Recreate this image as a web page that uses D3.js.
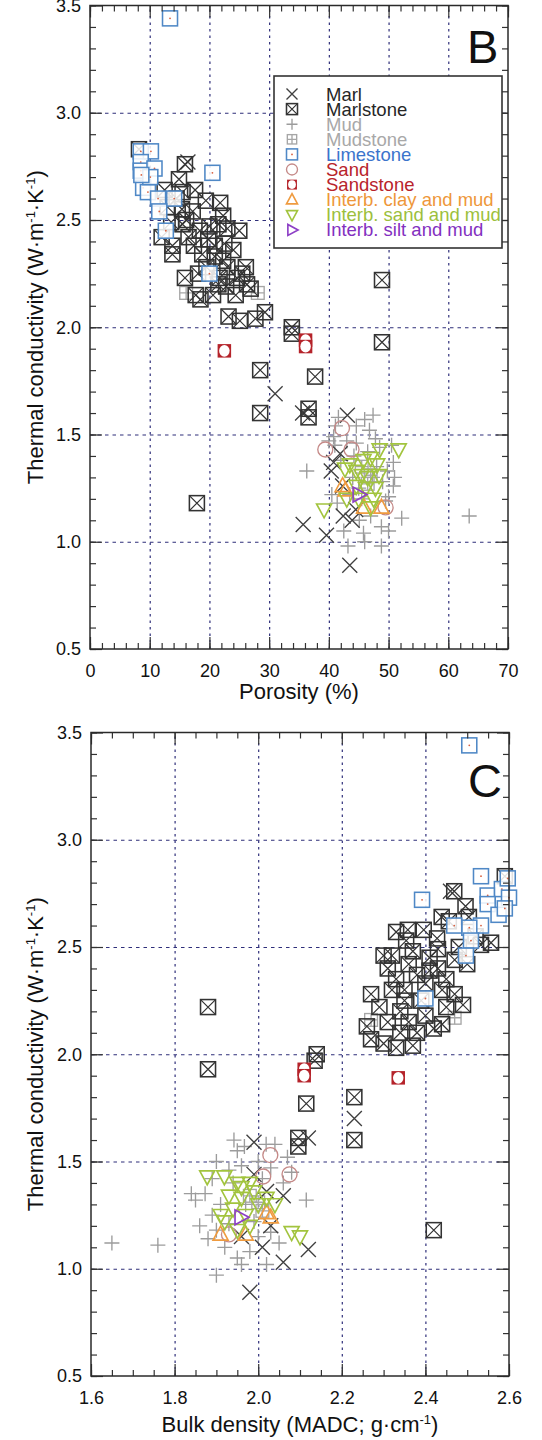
<!DOCTYPE html>
<html>
<head>
<meta charset="utf-8">
<script src="https://cdnjs.cloudflare.com/ajax/libs/d3/7.8.5/d3.min.js"></script>
<style>
body { margin: 0; background: #fff; }
svg text { font-family: "Liberation Sans", Arial, sans-serif; }
</style>
</head>
<body>
<svg id="chart" width="542" height="1440"></svg>
<script>
// ---- panel B : porosity (%) vs thermal conductivity ----
var marlB = [[16.4,2.77],[31.0,1.69],[35.6,1.60],[43.1,1.59],[41.9,1.41],[40.4,1.33],[42.3,1.26],
  [42.4,1.12],[43.9,1.10],[35.7,1.08],[39.6,1.03],[43.5,0.89],[44.5,1.15],[40.8,1.37]];
var marlstoneB = [[8.2,2.83],[15.9,2.76],[14.9,2.69],[17.6,2.64],[12.5,2.64],[15.5,2.63],[19.4,2.59],
  [21.8,2.58],[15.4,2.55],[17.2,2.54],[15.5,2.48],[18.4,2.45],[21.5,2.48],[23.0,2.46],[25.0,2.45],
  [13.8,2.38],[13.8,2.34],[17.4,2.38],[20.9,2.38],[22.5,2.39],[18.8,2.34],[20.9,2.33],[22.3,2.31],
  [23.0,2.28],[26.1,2.28],[15.9,2.23],[18.1,2.25],[21.7,2.23],[24.6,2.23],[17.7,2.15],[18.5,2.13],
  [20.6,2.15],[22.8,2.19],[24.4,2.15],[26.3,2.20],[23.2,2.05],[25.1,2.03],[27.7,2.04],[29.3,2.07],
  [12.0,2.42],[16.5,2.42],[19.8,2.41],[16.1,2.50],[13.6,2.49],[22.3,2.52],[20.0,2.47],[24.0,2.36],
  [19.5,2.28],[21.5,2.20],[25.5,2.25],[26.9,2.18],[13.0,2.56],[14.5,2.60],
  [33.8,2.00],[33.8,1.97],[48.9,2.22],[48.9,1.93],[28.5,1.80],[37.7,1.77],[28.5,1.60],[36.6,1.62],
  [36.6,1.58],[17.9,1.18]];
var mudB = [[36.3,1.33],[63.5,1.12],[41.6,1.58],[44.6,1.54],[46.0,1.57],[47.4,1.59],[41.1,1.54],
  [52.2,1.11],[48.8,1.07],[45.8,1.04],[43.2,0.98],[48.8,0.98],[50.8,1.37],[50.8,1.26],[50.0,1.21],
  [41.4,1.18],[40.5,1.22],[45.1,1.10],[47.3,1.30],[44.6,1.46],[43.0,1.47],[40.8,1.49],[47.8,1.48],
  [49.5,1.19],[46.5,1.42],[48.5,1.44],[42.0,1.38],[44.0,1.30],[45.5,1.20],[47.0,1.12],[49.0,1.28],
  [50.5,1.45],[46.8,1.52],[41.0,1.45],[43.5,1.22],[46.0,1.00],[50.0,1.05],[51.0,1.30],[40.0,1.47],
  [42.5,1.05],[44.2,1.40],[48.0,1.35],[45.0,1.25],[49.8,1.33]];
var mudstoneB = [[16.1,2.16],[28.1,2.16],[47.0,1.31],[46.5,1.27],[45.5,1.35]];
var limestoneB = [[13.4,3.44],[8.5,2.82],[10.2,2.82],[8.5,2.77],[8.5,2.73],[10.8,2.74],[20.5,2.72],
  [8.9,2.65],[9.7,2.63],[11.4,2.60],[14.1,2.60],[11.6,2.54],[12.7,2.45],[20.0,2.25],[10.1,2.70],[8.6,2.71]];
var sandB = [[42.2,1.53],[39.4,1.43],[43.8,1.43],[49.5,1.16]];
var sandstoneB = [[36.1,1.94],[36.1,1.91],[22.5,1.89]];
var clayMudB = [[42.3,1.26],[45.9,1.16],[48.8,1.16],[42.8,1.24]];
var sandMudB = [[51.7,1.43],[48.5,1.43],[39.2,1.15],[42.7,1.34],[44.6,1.33],[45.8,1.38],[47.0,1.39],
  [48.4,1.31],[44.6,1.26],[46.2,1.25],[47.8,1.25],[47.0,1.16],[48.1,1.36],[45.5,1.31],[43.5,1.36],
  [46.5,1.30],[45.0,1.20],[47.5,1.20],[43.0,1.20]];
var siltMudB = [[45.0,1.22]];

// ---- panel C : bulk density vs thermal conductivity ----
var marlC = [[1.99,1.59],[2.12,1.61],[1.99,1.44],[2.06,1.34],[2.02,1.36],[1.98,0.89],[2.06,1.03],
  [2.12,1.09],[2.01,1.10],[1.96,1.15],[2.23,1.70],[2.46,2.76],[2.03,1.20]];
var marlstoneC = [[1.88,2.22],[1.88,1.93],[2.135,1.97],[2.14,2.00],[2.115,1.77],[2.096,1.61],[2.096,1.57],
  [2.23,1.80],[2.23,1.60],[2.42,1.18],
  [2.469,2.76],[2.496,2.69],[2.439,2.64],[2.456,2.62],[2.504,2.64],[2.59,2.83],[2.33,2.57],[2.358,2.58],
  [2.396,2.58],[2.354,2.53],[2.428,2.54],[2.557,2.52],[2.533,2.51],[2.43,2.49],[2.30,2.46],[2.32,2.46],
  [2.37,2.48],[2.27,2.28],[2.29,2.22],[2.31,2.40],[2.33,2.35],[2.35,2.30],[2.36,2.42],[2.38,2.37],
  [2.40,2.33],[2.41,2.45],[2.43,2.40],[2.45,2.35],[2.47,2.44],[2.48,2.50],[2.50,2.42],[2.52,2.55],
  [2.44,2.30],[2.39,2.25],[2.34,2.20],[2.31,2.15],[2.36,2.15],[2.40,2.18],[2.42,2.12],[2.45,2.22],
  [2.47,2.28],[2.30,2.05],[2.33,2.03],[2.37,2.04],[2.27,2.07],[2.26,2.13],[2.44,2.14],[2.38,2.10],
  [2.34,2.10],[2.41,2.39],[2.49,2.23],[2.35,2.25],[2.32,2.30]];
var mudC = [[1.65,1.12],[1.76,1.11],[1.84,1.35],[1.85,1.32],[1.90,0.97],[1.942,1.60],[1.967,1.57],
  [2.019,1.58],[2.04,1.58],[1.873,1.35],[2.115,1.32],[1.90,1.50],[1.93,1.46],[1.96,1.48],[2.00,1.50],
  [2.03,1.47],[2.06,1.40],[2.08,1.45],[1.89,1.25],[1.92,1.10],[1.95,1.05],[1.98,1.08],[2.00,1.15],
  [2.02,1.02],[1.90,1.18],[1.88,1.14],[1.91,1.30],[1.94,1.40],[1.97,1.30],[1.99,1.22],[2.05,1.12],
  [1.86,1.20],[1.93,1.21],[2.01,1.42],[1.95,1.55],[2.07,1.52],[1.96,1.02],[2.03,1.17],[1.89,1.42]];
var mudstoneC = [[2.27,2.16],[2.47,2.17],[2.00,1.31],[2.01,1.27],[1.98,1.34]];
var limestoneC = [[2.505,3.44],[2.533,2.83],[2.392,2.72],[2.549,2.74],[2.583,2.77],[2.597,2.82],
  [2.549,2.70],[2.575,2.65],[2.533,2.60],[2.505,2.59],[2.469,2.60],[2.509,2.53],[2.497,2.46],
  [2.40,2.26],[2.60,2.73],[2.59,2.68]];
var sandC = [[2.029,1.53],[2.012,1.43],[2.075,1.44],[1.93,1.16]];
var sandstoneC = [[2.11,1.93],[2.11,1.90],[2.335,1.89]];
var clayMudC = [[2.02,1.26],[1.91,1.16],[1.97,1.16],[2.03,1.24]];
var sandMudC = [[1.878,1.43],[1.919,1.43],[1.95,1.40],[1.98,1.40],[1.93,1.34],[1.96,1.33],[1.99,1.36],
  [2.02,1.33],[1.94,1.28],[1.97,1.25],[2.00,1.30],[1.92,1.22],[1.95,1.18],[2.10,1.15],[1.98,1.20],
  [2.04,1.30],[1.91,1.25],[1.96,1.38],[2.08,1.17]];
var siltMudC = [[1.958,1.24]];

// ---- ticks ----
var tcTicks = [0.5, 1.0, 1.5, 2.0, 2.5, 3.0, 3.5];
var porTicks = [0, 10, 20, 30, 40, 50, 60, 70];
var denTicks = [1.6, 1.8, 2.0, 2.2, 2.4, 2.6];

var lithNames = ["Marl", "Marlstone", "Mud", "Mudstone", "Limestone", "Sand", "Sandstone",
  "Interb. clay and mud", "Interb. sand and mud", "Interb. silt and mud"];

var look = {
  "Marl": {shape: "x", color: "#404040", text: "#262626"},
  "Marlstone": {shape: "xbox", color: "#333333", text: "#262626"},
  "Mud": {shape: "plus", color: "#9c9c9c", text: "#a8a8a8"},
  "Mudstone": {shape: "plusbox", color: "#a6a6a6", text: "#a8a8a8"},
  "Limestone": {shape: "dotbox", color: "#4f88c6", text: "#3b74cc"},
  "Sand": {shape: "circle", color: "#c58a88", text: "#b8232b"},
  "Sandstone": {shape: "cornerbox", color: "#b5232a", text: "#b8232b"},
  "Interb. clay and mud": {shape: "tri", color: "#ef9b3f", text: "#ee973a"},
  "Interb. sand and mud": {shape: "tridown", color: "#a2c43e", text: "#9cbf3c"},
  "Interb. silt and mud": {shape: "triright", color: "#8d3fc6", text: "#8330bf"}
};

var svg = d3.select("#chart");
svg.append("rect").attr("width", 542).attr("height", 1440).attr("fill", "#fff");

function drawSymbol(g, shape, color, s) {
  var sw = 1.35;
  if (shape == "x") {
    g.append("path").attr("d", "M" + -s + "," + -s + "L" + s + "," + s + "M" + -s + "," + s + "L" + s + "," + -s)
      .attr("stroke", color).attr("stroke-width", sw).attr("fill", "none");
  } else if (shape == "xbox") {
    g.append("rect").attr("x", -s).attr("y", -s).attr("width", 2 * s).attr("height", 2 * s)
      .attr("stroke", color).attr("stroke-width", sw + 0.2).attr("fill", "none");
    g.append("path").attr("d", "M" + -s + "," + -s + "L" + s + "," + s + "M" + -s + "," + s + "L" + s + "," + -s)
      .attr("stroke", color).attr("stroke-width", sw * 0.9).attr("fill", "none");
  } else if (shape == "plus") {
    g.append("path").attr("d", "M" + -s + ",0L" + s + ",0M0," + -s + "L0," + s)
      .attr("stroke", color).attr("stroke-width", sw).attr("fill", "none");
  } else if (shape == "plusbox") {
    var t = s * 0.85;
    g.append("rect").attr("x", -t).attr("y", -t).attr("width", 2 * t).attr("height", 2 * t)
      .attr("stroke", color).attr("stroke-width", sw).attr("fill", "none");
    g.append("path").attr("d", "M" + -t + ",0L" + t + ",0M0," + -t + "L0," + t)
      .attr("stroke", color).attr("stroke-width", sw).attr("fill", "none");
  } else if (shape == "dotbox") {
    g.append("rect").attr("x", -s).attr("y", -s).attr("width", 2 * s).attr("height", 2 * s)
      .attr("stroke", color).attr("stroke-width", sw + 0.2).attr("fill", "#fff").attr("fill-opacity", 0.85);
    g.append("circle").attr("r", 0.9).attr("fill", "#d9603f");
  } else if (shape == "circle") {
    g.append("circle").attr("r", s).attr("stroke", color).attr("stroke-width", sw).attr("fill", "none");
  } else if (shape == "cornerbox") {
    var c = s * 0.9;
    g.append("rect").attr("x", -c).attr("y", -c).attr("width", 2 * c).attr("height", 2 * c)
      .attr("fill", color);
    g.append("ellipse").attr("rx", c * 0.78).attr("ry", c * 0.88).attr("fill", "#fff");
  } else if (shape == "tri") {
    g.append("path").attr("d", "M0," + -s * 1.1 + "L" + s + "," + s * 0.75 + "L" + -s + "," + s * 0.75 + "Z")
      .attr("stroke", color).attr("stroke-width", sw + 0.3).attr("fill", "none");
  } else if (shape == "tridown") {
    g.append("path").attr("d", "M0," + s * 1.1 + "L" + s + "," + -s * 0.75 + "L" + -s + "," + -s * 0.75 + "Z")
      .attr("stroke", color).attr("stroke-width", sw + 0.3).attr("fill", "none");
  } else if (shape == "triright") {
    g.append("path").attr("d", "M" + s * 1.1 + ",0L" + -s * 0.75 + "," + -s + "L" + -s * 0.75 + "," + s + "Z")
      .attr("stroke", color).attr("stroke-width", sw + 0.3).attr("fill", "none");
  }
}

function drawPanel(p) {
  var x = p.x, y = p.y;
  var x0 = x.range()[0], x1 = x.range()[1], y0 = y.range()[0], y1 = y.range()[1];
  var g = svg.append("g");

  // dotted grid
  g.append("g").attr("transform", "translate(0," + y0 + ")")
    .call(d3.axisBottom(x).tickValues(p.grid).tickSize(-(y0 - y1)).tickFormat(""))
    .call(function(a) { a.select(".domain").remove(); })
    .selectAll("line").attr("stroke", "#2f2f7a").attr("stroke-width", 1.2).attr("stroke-dasharray", "2.5,4");
  g.append("g").attr("transform", "translate(" + x0 + ",0)")
    .call(d3.axisLeft(y).tickValues([1.0, 1.5, 2.0, 2.5, 3.0]).tickSize(-(x1 - x0)).tickFormat(""))
    .call(function(a) { a.select(".domain").remove(); })
    .selectAll("line").attr("stroke", "#2f2f7a").attr("stroke-width", 1.2).attr("stroke-dasharray", "3.5,4");

  // markers
  p.series.forEach(function(s) {
    var st = look[s.name];
    g.append("g").selectAll("g").data(s.pts).enter().append("g")
      .attr("transform", function(d) { return "translate(" + x(d[0]) + "," + y(d[1]) + ")"; })
      .each(function() { drawSymbol(d3.select(this), st.shape, st.color, 7.5); });
  });

  // ticks, all four sides, pointing inward
  function tickAxes(axisFn, scale, vals, len, tr, labels) {
    var a = g.append("g").attr("transform", tr)
      .call(axisFn(scale).tickValues(vals).tickSizeInner(-len).tickSizeOuter(0)
        .tickPadding(labels ? 12 : 0).tickFormat(labels ? labels : ""));
    a.select(".domain").remove();
    a.selectAll("line").attr("stroke", "#333").attr("stroke-width", 1.2);
    a.selectAll("text").attr("font-size", 18).attr("fill", "#111")
      .attr("font-family", "'Liberation Sans', Arial, sans-serif");
    return a;
  }
  var minorX = d3.range(x.domain()[0], x.domain()[1] + p.minorXStep / 2, p.minorXStep);
  var minorY = d3.range(0.5, 3.51, 0.1);
  tickAxes(d3.axisBottom, x, minorX, 6, "translate(0," + y0 + ")");
  tickAxes(d3.axisTop, x, minorX, 6, "translate(0," + y1 + ")");
  tickAxes(d3.axisLeft, y, minorY, 6, "translate(" + x0 + ",0)");
  tickAxes(d3.axisRight, y, minorY, 6, "translate(" + x1 + ",0)");
  var bx = tickAxes(d3.axisBottom, x, p.xTicks, 12, "translate(0," + y0 + ")", p.xFmt);
  bx.selectAll("text").attr("dy", "0.75em").attr("y", 14);
  tickAxes(d3.axisTop, x, p.xTicks, 12, "translate(0," + y1 + ")");
  var ly = tickAxes(d3.axisLeft, y, tcTicks, 12, "translate(" + x0 + ",0)", d3.format(".1f"));
  ly.selectAll("text").attr("x", -9);
  tickAxes(d3.axisRight, y, tcTicks, 12, "translate(" + x1 + ",0)");

  // frame
  g.append("rect").attr("x", x0).attr("y", y1).attr("width", x1 - x0).attr("height", y0 - y1)
    .attr("fill", "none").attr("stroke", "#2a2a2a").attr("stroke-width", 1.5);

  // panel letter
  g.append("text").attr("x", x1 - 41).attr("y", p.letterY).attr("font-size", 47)
    .attr("fill", "#111").text(p.letter);

  // axis titles
  var xt = g.append("text").attr("x", (x0 + x1) / 2).attr("y", p.xTitleY).attr("text-anchor", "middle")
    .attr("font-size", 22).attr("fill", "#111");
  p.xTitle(xt);

  var yt = g.append("text").attr("transform", "translate(43," + (y0 + y1) / 2 + ") rotate(-90)")
    .attr("text-anchor", "middle").attr("font-size", 22).attr("fill", "#111");
  yt.append("tspan").text("Thermal conductivity (W\u00b7m");
  yt.append("tspan").attr("dy", -8).attr("font-size", 13).text("-1");
  yt.append("tspan").attr("dy", 8).text("\u00b7K");
  yt.append("tspan").attr("dy", -8).attr("font-size", 13).text("-1");
  yt.append("tspan").attr("dy", 8).text(")");
  return g;
}

var xB = d3.scaleLinear().domain([0, 70]).range([90, 508]);
var yB = d3.scaleLinear().domain([0.5, 3.5]).range([649, 5.5]);
var xC = d3.scaleLinear().domain([1.6, 2.6]).range([91, 509]);
var yC = d3.scaleLinear().domain([0.5, 3.5]).range([1376, 732.5]);

function seriesOf(list) {
  return lithNames.map(function(n, i) { return {name: n, pts: list[i]}; });
}
// draw order: grey muds underneath, then the rest
var orderIdx = [2, 3, 0, 1, 4, 5, 6, 7, 8, 9];
var bLists = [marlB, marlstoneB, mudB, mudstoneB, limestoneB, sandB, sandstoneB, clayMudB, sandMudB, siltMudB];
var cLists = [marlC, marlstoneC, mudC, mudstoneC, limestoneC, sandC, sandstoneC, clayMudC, sandMudC, siltMudC];

var gB = drawPanel({
  x: xB, y: yB, grid: [10, 20, 30, 40, 50, 60], xTicks: porTicks, minorXStep: 2,
  xFmt: d3.format("d"), letter: "B", letterY: 63, xTitleY: 699,
  series: orderIdx.map(function(i) { return seriesOf(bLists)[i]; }),
  xTitle: function(t) { t.text("Porosity (%)"); }
});

drawPanel({
  x: xC, y: yC, grid: [1.8, 2.0, 2.2, 2.4], xTicks: denTicks, minorXStep: 0.05,
  xFmt: d3.format(".1f"), letter: "C", letterY: 797, xTitleY: 1432,
  series: orderIdx.map(function(i) { return seriesOf(cLists)[i]; }),
  xTitle: function(t) {
    t.append("tspan").text("Bulk density (MADC; g\u00b7cm");
    t.append("tspan").attr("dy", -8).attr("font-size", 13).text("-1");
    t.append("tspan").attr("dy", 8).text(")");
  }
});

// legend (panel B)
var leg = gB.append("g");
leg.append("rect").attr("x", 274).attr("y", 76).attr("width", 228).attr("height", 172)
  .attr("fill", "#fff").attr("stroke", "#333").attr("stroke-width", 1.6);
var row = leg.selectAll(".row").data(lithNames).enter().append("g").attr("class", "row")
  .attr("transform", function(d, i) { return "translate(0," + (94 + i * 15.1) + ")"; });
row.each(function(d) {
  var sg = d3.select(this).append("g").attr("transform", "translate(292,0)");
  drawSymbol(sg, look[d].shape, look[d].color, 5.5);
});
row.append("text").attr("x", 326).attr("y", 6.5).attr("font-size", 18.5)
  .attr("fill", function(d) { return look[d].text; }).text(function(d) { return d; });
</script>
</body>
</html>
